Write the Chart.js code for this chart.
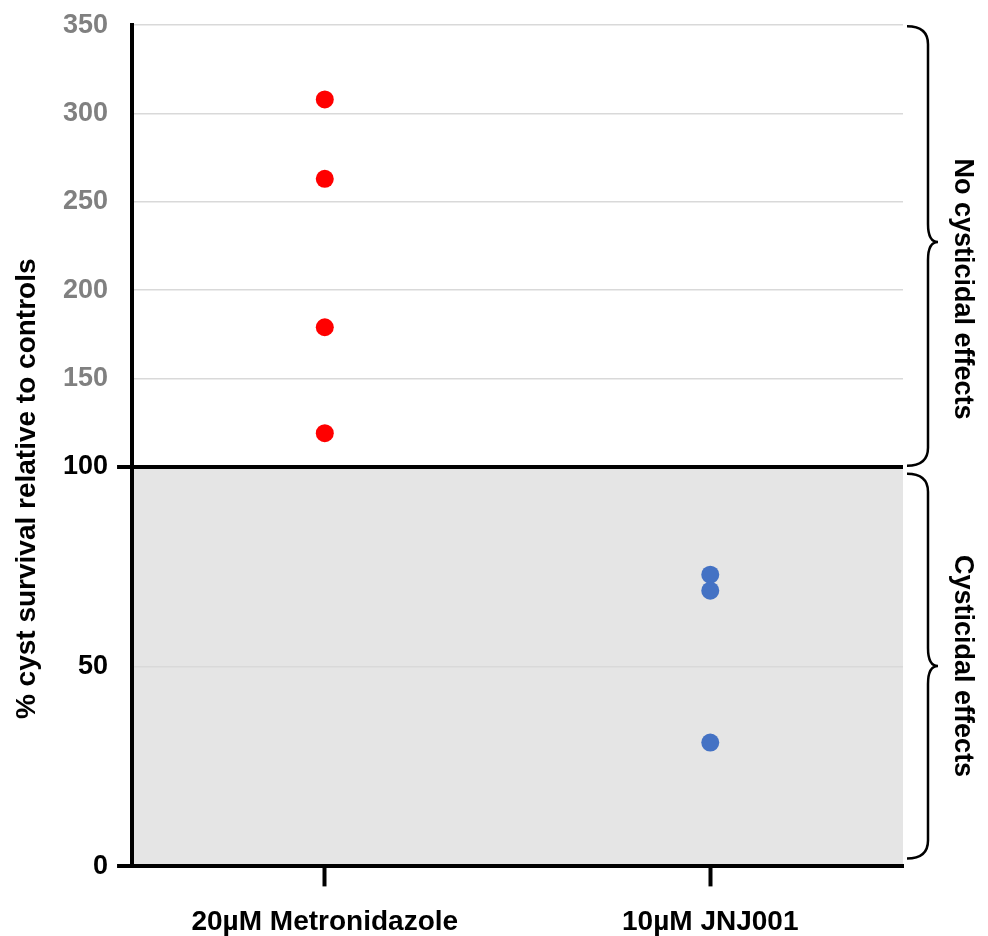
<!DOCTYPE html>
<html>
<head>
<meta charset="utf-8">
<script src="https://cdn.jsdelivr.net/npm/chart.js@4.4.0/dist/chart.umd.min.js"></script>
<style>
  html, body { margin: 0; padding: 0; background: #fff; }
  #wrap { width: 988px; height: 936px; position: relative; }
</style>
</head>
<body>
<div id="wrap"><canvas id="myChart"></canvas></div>
<script>
// data
const treatments = ["20µM Metronidazole", "10µM JNJ001"];
const metronidazoleValues = [308, 263, 179, 119];
const jnj001Values = [73, 69, 31];
const lowerTicks = [0, 50, 100];
const upperTicks = [150, 200, 250, 300, 350];
const threshold = 100;
const upperMax = 350;
const yTitle = "% cyst survival relative to controls";
const topNote = "No cysticidal effects";
const bottomNote = "Cysticidal effects";

const FONT = "'Liberation Sans', Arial, sans-serif";
const tickFont = { family: FONT, size: 27, weight: 'bold' };
const catFont = { family: FONT, size: 28, weight: 'bold' };

const toPoints = (label, values) => values.map(v => ({ x: label, y: v }));

// brace drawn along the right side of the plot
const drawBrace = (ctx, x, y0, y1, tipY) => {
    const w = 21, r = 18, tip = 10;
    ctx.beginPath();
    ctx.moveTo(x, y0);
    ctx.quadraticCurveTo(x + w, y0, x + w, y0 + r);
    ctx.lineTo(x + w, tipY - r);
    ctx.quadraticCurveTo(x + w, tipY, x + w + tip, tipY);
    ctx.quadraticCurveTo(x + w, tipY, x + w, tipY + r);
    ctx.lineTo(x + w, y1 - r);
    ctx.quadraticCurveTo(x + w, y1, x, y1);
    ctx.stroke();
};

const drawVertical = (ctx, text, x, y, angle) => {
    ctx.save();
    ctx.translate(x, y);
    ctx.rotate(angle);
    ctx.textAlign = 'center';
    ctx.textBaseline = 'middle';
    ctx.fillText(text, 0, 0);
    ctx.restore();
};

const extras = {
    id: 'extras',
    beforeDraw(chart) {
        const { ctx, chartArea, scales } = chart;
        const yb = scales.yBottom;
        const top = yb.getPixelForValue(threshold);
        const bot = yb.getPixelForValue(0);
        ctx.save();
        ctx.fillStyle = '#e5e5e5';
        ctx.fillRect(chartArea.left, top, chartArea.right - chartArea.left, bot - top);
        ctx.restore();
    },
    afterDraw(chart) {
        const { ctx, chartArea, scales } = chart;
        const yt = scales.yTop, yb = scales.yBottom;
        ctx.save();
        ctx.fillStyle = '#000';
        ctx.strokeStyle = '#000';
        // y axis title
        ctx.font = `bold 28px ${FONT}`;
        drawVertical(ctx, yTitle, 27, (chartArea.top + chartArea.bottom) / 2 + 43, -Math.PI / 2);

        // braces
        ctx.lineWidth = 2.5;
        const bx = chartArea.right + 4;
        const t0 = yt.getPixelForValue(upperMax) + 1, t1 = yt.getPixelForValue(threshold) - 1;
        drawBrace(ctx, bx, t0, t1, (t0 + t1) / 2 - 4);
        const b0 = yb.getPixelForValue(threshold) + 7, b1 = yb.getPixelForValue(0) - 8;
        drawBrace(ctx, bx, b0, b1, (b0 + b1) / 2);

        ctx.font = `bold 27px ${FONT}`;
        drawVertical(ctx, topNote, chartArea.right + 59, (t0 + t1) / 2 + 43, Math.PI / 2);
        drawVertical(ctx, bottomNote, chartArea.right + 59, (b0 + b1) / 2, Math.PI / 2);
        ctx.restore();
    }
};

const config = {
    type: 'scatter',
    data: {
        labels: treatments,
        datasets: [
            {
                label: treatments[0],
                data: toPoints(treatments[0], metronidazoleValues),
                yAxisID: 'yTop',
                backgroundColor: '#ff0000',
                borderColor: '#ff0000',
                pointRadius: 9,
                pointBorderWidth: 0,
            },
            {
                label: treatments[1],
                data: toPoints(treatments[1], jnj001Values),
                yAxisID: 'yBottom',
                backgroundColor: '#4472c4',
                borderColor: '#4472c4',
                pointRadius: 9,
                pointBorderWidth: 0,
            },
        ],
    },
    options: {
        responsive: true,
        maintainAspectRatio: false,
        animation: false,
        layout: { padding: { left: 54, right: 85, top: 3, bottom: -22 } },
        plugins: { legend: { display: false }, tooltip: { enabled: false } },
        scales: {
            x: {
                type: 'category',
                labels: treatments,
                offset: true,
                border: { color: '#000', width: 4 },
                grid: { offset: false, drawOnChartArea: false, tickLength: 20, tickWidth: 4, tickColor: '#000' },
                ticks: { color: '#000', font: catFont, padding: 19 },
            },
            yBottom: {
                type: 'linear',
                position: 'left',
                stack: 'y',
                stackWeight: 400,
                min: 0,
                max: threshold,
                afterBuildTicks: (s) => { s.ticks = lowerTicks.map(v => ({ value: v })); },
                border: { color: '#000', width: 4 },
                grid: {
                    color: (c) => (c.tick.value > 0 && c.tick.value < threshold) ? '#d9d9d9' : '#000',
                    lineWidth: (c) => (c.tick.value > 0 && c.tick.value < threshold) ? 1.5 : 4,
                    tickColor: (c) => (c.tick.value > 0 && c.tick.value < threshold) ? 'rgba(0,0,0,0)' : '#000',
                    tickLength: 15,
                    tickWidth: 4,
                },
                ticks: { color: '#000', font: tickFont, padding: 9 },
            },
            yTop: {
                type: 'linear',
                position: 'left',
                stack: 'y',
                stackWeight: 442,
                min: threshold,
                max: upperMax,
                afterBuildTicks: (s) => { s.ticks = upperTicks.map(v => ({ value: v })); },
                border: { color: '#000', width: 4 },
                grid: {
                    color: '#d9d9d9',
                    lineWidth: 1.5,
                    tickColor: 'rgba(0,0,0,0)',
                    tickLength: 15,
                },
                ticks: { color: '#808080', font: tickFont, padding: 9 },
            },
        },
    },
    plugins: [extras],
};

const myChart = new Chart(document.getElementById('myChart'), config);
</script>
</body>
</html>
